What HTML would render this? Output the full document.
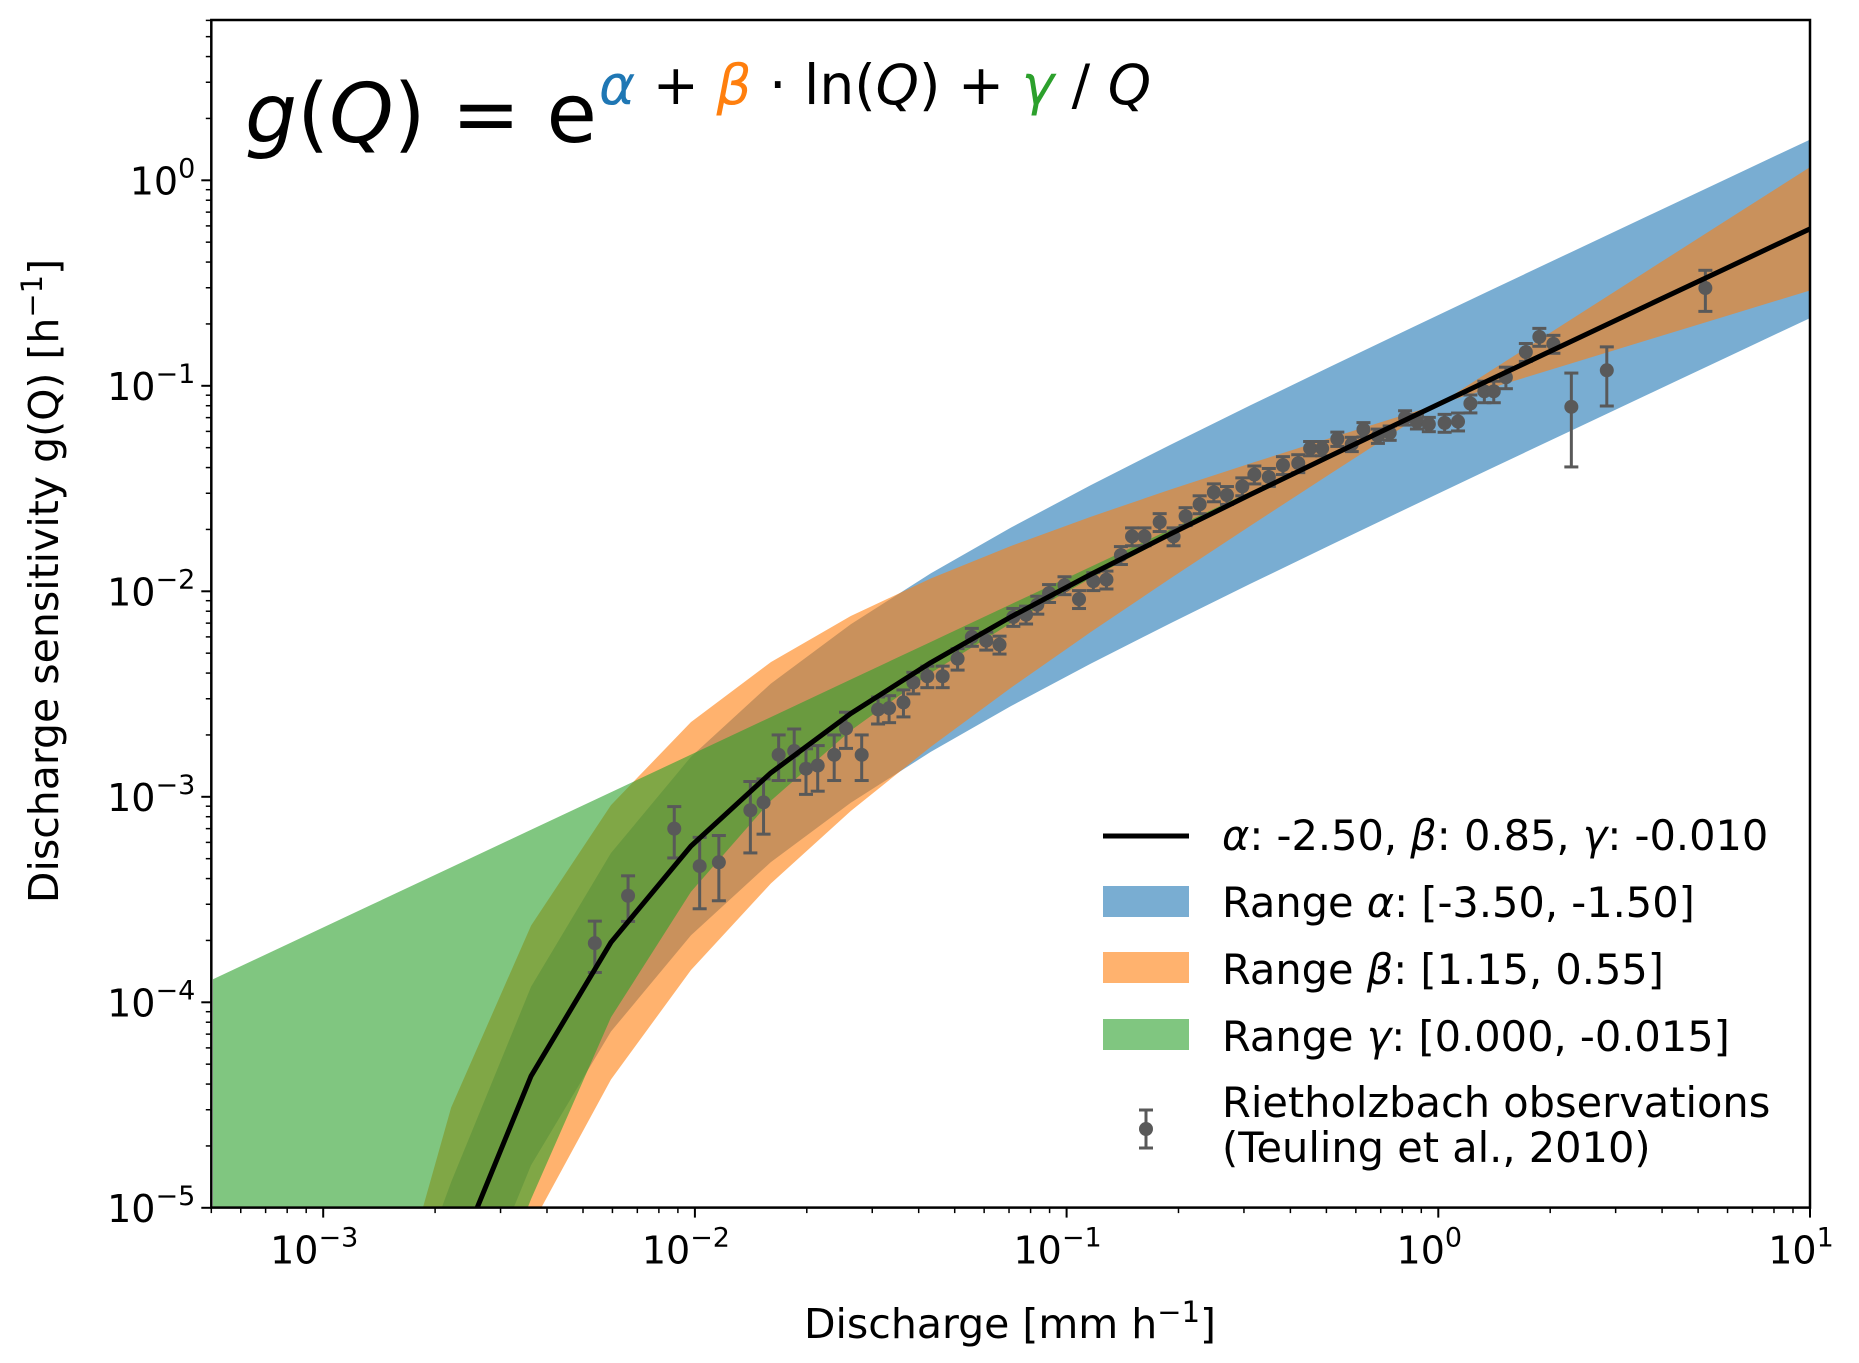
<!DOCTYPE html>
<html><head><meta charset="utf-8"><style>
html,body{margin:0;padding:0;background:#fff;overflow:hidden;width:1859px;height:1363px}
svg{display:block;overflow:hidden;font-family:"DejaVu Sans","Liberation Sans",sans-serif}
</style></head><body>
<svg id="chart" width="1859" height="1363" viewBox="0 0 1859 1363" xmlns="http://www.w3.org/2000/svg">
<defs><clipPath id="plotclip"><rect x="213" y="20" width="1597" height="1187"/></clipPath></defs>
<rect x="0" y="0" width="1859" height="1363" fill="#fff"/>
<g id="bands" clip-path="url(#plotclip)"></g>
<g id="obs" clip-path="url(#plotclip)"></g>
<g id="fit" clip-path="url(#plotclip)"></g>
<g id="axes"></g>
<text x="245" y="142" font-size="82"><tspan font-style="italic">g</tspan>(<tspan font-style="italic">Q</tspan>) = e</text>
<text x="599" y="104" font-size="55" textLength="552"><tspan font-style="italic" fill="#1f77b4">α</tspan> + <tspan font-style="italic" fill="#ff7f0e">β</tspan> · ln(<tspan font-style="italic">Q</tspan>) + <tspan font-style="italic" fill="#2ca02c">γ</tspan> / <tspan font-style="italic">Q</tspan></text>
<text x="1010" y="1338" font-size="41" text-anchor="middle">Discharge [mm h<tspan dy="-16" font-size="29">−1</tspan><tspan dy="16">]</tspan></text>
<text transform="translate(58,581) rotate(-90)" font-size="41" text-anchor="middle">Discharge sensitivity g(Q) [h<tspan dy="-16" font-size="29">−1</tspan><tspan dy="16">]</tspan></text>
<g font-size="41.5">
<g><line x1="1103" y1="836" x2="1189" y2="836" stroke="#000" stroke-width="5"/><text x="1222" y="850"><tspan font-style="italic">α</tspan>: -2.50, <tspan font-style="italic">β</tspan>: 0.85, <tspan font-style="italic">γ</tspan>: -0.010</text></g>
<g><rect x="1103" y="886" width="86" height="31" fill="#1f77b4" fill-opacity="0.6"/><text x="1222" y="917">Range <tspan font-style="italic">α</tspan>: [-3.50, -1.50]</text></g>
<g><rect x="1103" y="952" width="86" height="31" fill="#ff7f0e" fill-opacity="0.6"/><text x="1222" y="984">Range <tspan font-style="italic">β</tspan>: [1.15, 0.55]</text></g>
<g><rect x="1103" y="1019" width="86" height="31" fill="#2ca02c" fill-opacity="0.6"/><text x="1222" y="1051">Range <tspan font-style="italic">γ</tspan>: [0.000, -0.015]</text></g>
<g>
<line x1="1146" y1="1110" x2="1146" y2="1148" stroke="#595959" stroke-width="3"/><line x1="1139" y1="1110" x2="1153" y2="1110" stroke="#595959" stroke-width="3"/><line x1="1139" y1="1148" x2="1153" y2="1148" stroke="#595959" stroke-width="3"/><circle cx="1146" cy="1129" r="7" fill="#595959"/>
<text x="1222" y="1117">Rietholzbach observations</text><text x="1222" y="1162">(Teuling et al., 2010)</text></g>
</g>
</svg>
<script>
// model parameters
const fitParams = [-2.5, 0.85, -0.010];
const alphaRange = [-3.5, -1.5];
const betaRange = [1.15, 0.55];
const gammaRange = [0.0, -0.015];
const nGrid = 21;
const qMin = 5e-4, qMax = 10;
// observations
const obsQ = [0.00538,0.00661,0.0088,0.0103,0.0116,0.0141,0.0153,0.0168,0.0185,0.0199,0.0214,0.0237,0.0255,0.0281,0.0311,0.0333,0.0364,0.0387,0.0422,0.0464,0.0509,0.0556,0.0608,0.066,0.0719,0.0778,0.0834,0.0897,0.0987,0.108,0.118,0.128,0.14,0.15,0.162,0.178,0.194,0.209,0.228,0.249,0.27,0.297,0.32,0.35,0.382,0.42,0.452,0.487,0.535,0.585,0.629,0.688,0.74,0.814,0.876,0.943,1.04,1.13,1.22,1.33,1.41,1.52,1.72,1.87,2.04,2.28,2.84,5.23];
const obsG = [1.94e-4,3.3e-4,7.0e-4,4.6e-4,4.8e-4,8.6e-4,9.4e-4,1.6e-3,1.67e-3,1.37e-3,1.42e-3,1.6e-3,2.15e-3,1.6e-3,2.66e-3,2.7e-3,2.88e-3,3.6e-3,3.86e-3,3.86e-3,4.7e-3,6.0e-3,5.75e-3,5.5e-3,7.5e-3,7.7e-3,8.6e-3,9.8e-3,0.0107,0.00916,0.0112,0.0114,0.015,0.0185,0.0185,0.0217,0.0185,0.0232,0.0265,0.0303,0.0294,0.0324,0.037,0.036,0.0411,0.042,0.0496,0.0496,0.0551,0.052,0.0613,0.057,0.059,0.07,0.067,0.065,0.066,0.067,0.082,0.094,0.094,0.11,0.146,0.173,0.16,0.079,0.119,0.299];
const obsLo = [0.28,0.25,0.28,0.38,0.35,0.38,0.3,0.25,0.28,0.25,0.25,0.25,0.2,0.25,0.15,0.15,0.15,0.12,0.12,0.12,0.12,0.1,0.1,0.1,0.1,0.1,0.1,0.1,0.1,0.1,0.1,0.1,0.1,0.1,0.1,0.1,0.1,0.1,0.1,0.1,0.1,0.1,0.1,0.1,0.1,0.1,0.08,0.08,0.08,0.08,0.08,0.08,0.08,0.08,0.08,0.08,0.1,0.1,0.1,0.12,0.12,0.12,0.1,0.1,0.1,0.49,0.33,0.23];
const obsHi = [0.28,0.25,0.28,0.38,0.35,0.38,0.3,0.25,0.28,0.25,0.25,0.25,0.2,0.25,0.15,0.15,0.15,0.12,0.12,0.12,0.12,0.1,0.1,0.1,0.1,0.1,0.1,0.1,0.1,0.1,0.1,0.1,0.1,0.1,0.1,0.1,0.1,0.1,0.1,0.1,0.1,0.1,0.1,0.1,0.1,0.1,0.08,0.08,0.08,0.08,0.08,0.08,0.08,0.08,0.08,0.08,0.1,0.1,0.1,0.12,0.12,0.12,0.1,0.1,0.1,0.46,0.3,0.22];
const xTickLabels = ["-3","-2","-1","0","1"];
const yTickLabels = ["-5","-4","-3","-2","-1","0"];

const NS = "http://www.w3.org/2000/svg";
const X0 = 1810, XD = 371.7, Y0 = 180.3, YD = 205.5;
const xs = q => X0 + (Math.log10(q) - 1) * XD;
const ys = g => Y0 - Math.log10(g) * YD;
const model = (a,b,c,q) => Math.exp(a + b*Math.log(q) + c/q);
const grid = [];
for (let i=0;i<nGrid;i++) grid.push(Math.pow(10, Math.log10(qMin) + i*(Math.log10(qMax)-Math.log10(qMin))/(nGrid-1)));
function mk(tag, attrs, parent){const e=document.createElementNS(NS,tag);for(const k in attrs)e.setAttribute(k,attrs[k]);parent.appendChild(e);return e;}
function clampY(v){return Math.min(ys(Math.max(v,1e-300)), 1400);}
function band(f1,f2,color,name){
  let d="";
  grid.forEach((q,i)=>{d+=(i?"L":"M")+xs(q).toFixed(2)+","+clampY(f1(q)).toFixed(2);});
  for(let i=grid.length-1;i>=0;i--){const q=grid[i];d+="L"+xs(q).toFixed(2)+","+clampY(f2(q)).toFixed(2);}
  const p=mk("path",{d:d+"Z",fill:color,"fill-opacity":"0.6"},document.getElementById("bands"));
  
  
}
const [A,B,C]=fitParams;
band(q=>model(alphaRange[0],B,C,q),q=>model(alphaRange[1],B,C,q),"#1f77b4","band-alpha");
band(q=>model(A,betaRange[0],C,q),q=>model(A,betaRange[1],C,q),"#ff7f0e","band-beta");
band(q=>model(A,B,gammaRange[0],q),q=>model(A,B,gammaRange[1],q),"#2ca02c","band-gamma");
// observations
const og=document.getElementById("obs");
obsQ.forEach((q,i)=>{
  const x=xs(q), y=ys(obsG[i]), y1=ys(obsG[i]*(1-obsLo[i])), y2=ys(obsG[i]*(1+obsHi[i]));
  const g=mk("g",{},og);
  
  
  mk("line",{x1:x,y1:y1,x2:x,y2:y2,stroke:"#595959","stroke-width":3},g);
  mk("line",{x1:x-7,y1:y1,x2:x+7,y2:y1,stroke:"#595959","stroke-width":3},g);
  mk("line",{x1:x-7,y1:y2,x2:x+7,y2:y2,stroke:"#595959","stroke-width":3},g);
  mk("circle",{cx:x,cy:y,r:7,fill:"#595959"},g);
});
// fit line
let d="";
grid.forEach((q,i)=>{d+=(i?"L":"M")+xs(q).toFixed(2)+","+clampY(model(A,B,C,q)).toFixed(2);});
const fl=mk("path",{d:d,fill:"none",stroke:"#000","stroke-width":5,"stroke-linejoin":"round"},document.getElementById("fit"));


// axes
const ax=document.getElementById("axes");
const L=xs(qMin), R=1810, T=20, Bt=1207.6;
const fr=mk("rect",{x:L,y:T,width:R-L,height:Bt-T,fill:"none",stroke:"#000","stroke-width":2.5},ax);


for(let e=-4;e<=1;e++){for(let m=1;m<10;m++){const q=m*Math.pow(10,e);if(q<qMin-1e-12||q>qMax+1e-9)continue;const x=xs(q);const len=m===1?10:5.5;mk("line",{x1:x,y1:Bt,x2:x,y2:Bt+len,stroke:"#000","stroke-width":m===1?2:1.5},ax);}}
xTickLabels.forEach(s=>{const x=xs(Math.pow(10,+s));const t=mk("text",{x:x-9,y:Bt+56,"font-size":38,"text-anchor":"middle"},ax);t.textContent="10";const sp=mk("tspan",{dy:-17,"font-size":27},t);sp.textContent=s.replace("-","−");
  
  });
for(let e=-5;e<=0;e++){for(let m=1;m<10;m++){const g=m*Math.pow(10,e);const y=ys(g);if(y<T-0.5)continue;const len=m===1?10:5.5;mk("line",{x1:L-len,y1:y,x2:L,y2:y,stroke:"#000","stroke-width":m===1?2:1.5},ax);}}
yTickLabels.forEach(s=>{const y=ys(Math.pow(10,+s));const t=mk("text",{x:L-16,y:y+14,"font-size":38,"text-anchor":"end"},ax);t.textContent="10";const sp=mk("tspan",{dy:-17,"font-size":27},t);sp.textContent=s.replace("-","−");
  
  });
</script>
</body></html>
